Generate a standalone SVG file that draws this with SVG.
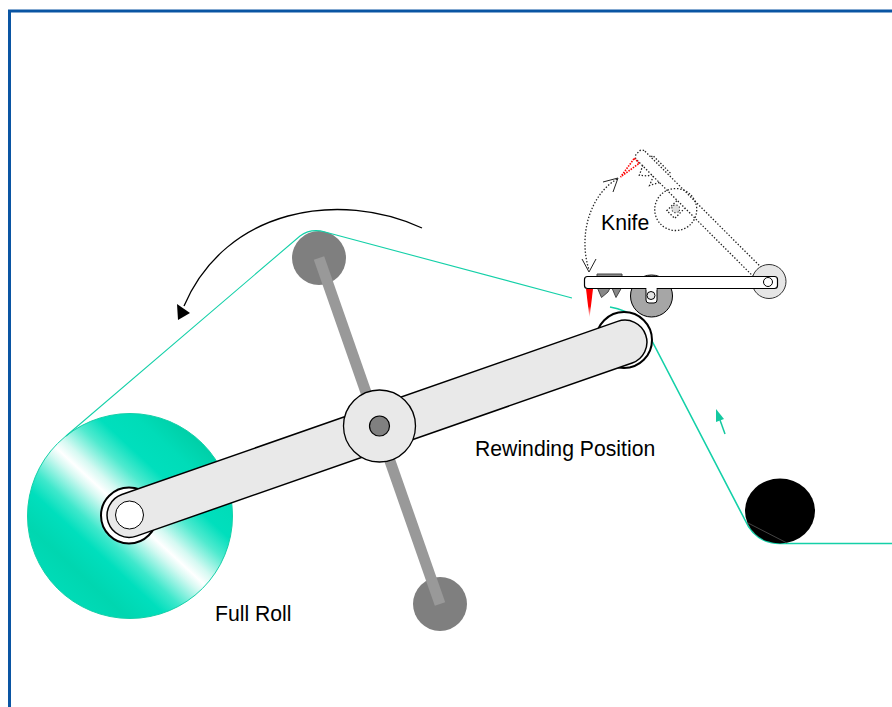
<svg xmlns="http://www.w3.org/2000/svg" width="892" height="707" viewBox="0 0 892 707">
<style>
text{font-family:"Liberation Sans",Arial,sans-serif;font-size:21.2px;fill:#000}
.web{fill:none;stroke:#14d0a8;stroke-width:1.1}
.ol{stroke:#000;stroke-width:1.5}
.dot{fill:none;stroke:#222;stroke-width:1.3;stroke-dasharray:1.4 1.8}
</style>
<defs>
<linearGradient id="roll" gradientUnits="userSpaceOnUse" x1="58" y1="594" x2="202" y2="438">
<stop offset="0" stop-color="#00dcb8"/><stop offset=".14" stop-color="#00d6b0"/><stop offset=".27" stop-color="#00dfbd"/>
<stop offset=".35" stop-color="#3fe8cc"/><stop offset=".46" stop-color="#d5f9f2"/><stop offset=".5" stop-color="#fff"/><stop offset=".55" stop-color="#d5f9f2"/><stop offset=".65" stop-color="#50eacf"/>
<stop offset=".74" stop-color="#00dfbd"/><stop offset=".86" stop-color="#00dcb8"/><stop offset="1" stop-color="#00cda5"/>
</linearGradient>
<linearGradient id="blade" x1="0" y1="0" x2="0" y2="1">
<stop offset="0" stop-color="#f00"/><stop offset=".6" stop-color="#f00"/><stop offset="1" stop-color="#fff"/>
</linearGradient>
</defs>
<rect id="frame" x="9.5" y="11" width="1000" height="1000" fill="#fff" stroke="#0a55a3" stroke-width="3"/>
<g id="full-roll"><circle cx="130" cy="516" r="102.5" fill="url(#roll)" stroke="#14d0a8" stroke-width="1"/></g>
<g id="lay-on-roller-top"><circle cx="319" cy="258" r="27" fill="#7f7f7f"/></g>
<g id="lay-on-roller-bottom"><circle cx="440" cy="604" r="27" fill="#7f7f7f"/></g>
<g id="thin-arm"><line x1="319" y1="258" x2="440" y2="604" stroke="#999" stroke-width="11"/></g>
<g id="connectors">
<path class="web" d="M66,436 L300,236 Q311,228 325,232 L572,298"/>
<path class="web" style="stroke-width:1.6" d="M610,307 Q642,313 651,339 L745,520 Q755,543 780,543.5 L892,543.5"/>
<path d="M422,228 C340,190 226,208 184,306" fill="none" stroke="#000" stroke-width="1.3"/>
<polygon points="177,304 190,313 178,320" fill="#000"/>
<line x1="725" y1="434" x2="720" y2="420" stroke="#14c8a0" stroke-width="1.5"/>
<polygon points="716,409 716,422 724,419" fill="#14c8a0"/>
<path class="dot" d="M617,179 C590,195 578,235 589,270"/>
<path d="M603,182 L618,178 L613,192 M582,259 L589,272 L596,259" fill="none" stroke="#222" stroke-width="1"/>
</g>
<g id="left-hub"><circle cx="129" cy="515.5" r="28" fill="#fff" stroke="#000" stroke-width="2"/></g>
<g id="right-roller"><circle cx="624" cy="340" r="28" fill="#fff" stroke="#000" stroke-width="2"/></g>
<g id="main-arm"><rect x="92.4" y="406.75" width="569.2" height="44" rx="22" transform="rotate(-19.25 377 428.75)" fill="#e9e9e9" class="ol"/></g>
<g id="left-hub-pin"><circle cx="129.5" cy="515" r="14" fill="#fff" stroke="#000" stroke-width="1"/></g>
<g id="center-hub"><circle cx="379.5" cy="426" r="36" fill="#e9e9e9" stroke="#000" stroke-width="1.3"/><circle cx="379.5" cy="426" r="10" fill="#808080" stroke="#000" stroke-width="1.2"/></g>
<g id="nip-roller"><ellipse cx="780" cy="511" rx="35" ry="32.5" fill="#000"/><path d="M748,523 L787,543" stroke="#444" stroke-width="1" fill="none"/></g>
<g id="knife-raised" transform="rotate(45 768 282)">
<rect class="dot" x="584.5" y="276.5" width="193" height="12" rx="4"/>
<path class="dot" d="M597,276V274H622V276M597,288L601.5,297.5L608,292L610,288M612,288L616,297.5L621,288"/>
<circle class="dot" cx="651.5" cy="296" r="21"/>
<circle cx="651" cy="295.5" r="4" fill="#ddd" stroke="#222" stroke-width="1" stroke-dasharray="1.2 2"/>
<path class="dot" d="M646,289V303H657V289"/>
<path d="M586,289H593L589.5,312Z" fill="none" stroke="#f00" stroke-width="1.6" stroke-dasharray="1.5 1.2"/>
</g>
<g id="knife">
<circle cx="769" cy="281.5" r="17" fill="#e6e6e6" stroke="#333" stroke-width="1"/>
<circle cx="651.5" cy="296" r="21" fill="#a6a6a6" stroke="#000" stroke-width="1"/>
<polygon points="597,274 622,274 622,287 616,297.5 612,288 610,288 608,292 601.5,297.5 597,287" fill="#888" stroke="#444" stroke-width="1"/>
<polygon points="586,289 593,289 589.5,318" fill="url(#blade)"/>
<rect x="584.5" y="276.5" width="193" height="12" rx="3" fill="#fff" stroke="#000" stroke-width="1.2"/>
<path d="M646,288.5V300Q646,303 649,303H654Q657,303 657,300V288.5" fill="#fff" stroke="#000" stroke-width="1"/>
<rect x="646.6" y="286" width="9.8" height="4" fill="#fff"/>
<circle cx="651" cy="295.5" r="4" fill="#e6e6e6" stroke="#000" stroke-width="1"/>
<circle cx="768" cy="282" r="4.5" fill="#fff" stroke="#000" stroke-width="1"/>
</g>
<text x="601" y="230">Knife</text>
<text x="475" y="456">Rewinding Position</text>
<text x="215" y="621">Full Roll</text>
</svg>
